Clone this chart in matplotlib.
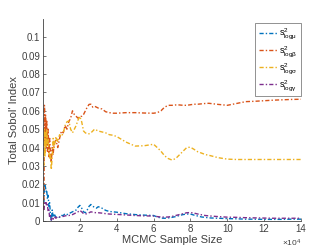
import matplotlib.pyplot as plt
from matplotlib.ticker import FuncFormatter

plt.rcParams['font.family'] = ['Liberation Sans', 'DejaVu Sans']
plt.rcParams['mathtext.fontset'] = 'custom'
plt.rcParams['mathtext.rm'] = 'Liberation Sans'
plt.rcParams['mathtext.it'] = 'Liberation Sans'

# sample sizes
n = [500, 800, 1100, 1400, 1700, 2000, 2400, 2800, 3200, 3600, 4000, 4500, 5000, 5500,
     6000, 7000, 8000, 9000, 10000, 11000, 12000, 13000, 14000, 15000, 16000, 17000,
     18000, 19000, 20000, 21000, 22000, 23000, 24000, 25000, 26000, 27000, 28000, 29000,
     30000, 32000, 34000, 36000, 38000, 40000, 45000, 50000, 55000, 60000, 62000, 64000,
     66000, 68000, 70000, 72000, 74000, 76000, 78000, 80000, 82000, 84000, 86000, 88000,
     90000, 95000, 100000, 105000, 110000, 115000, 120000, 125000, 130000, 135000, 140000]

s_mu = [0.010, 0.019, 0.020, 0.018, 0.016, 0.017, 0.012, 0.014, 0.008, 0.010, 0.004, 0.000,
        0.006, 0.002, 0.004, 0.002, 0.0025, 0.002, 0.003, 0.003, 0.004, 0.0035, 0.004, 0.0045,
        0.005, 0.0055, 0.006, 0.0075, 0.0085, 0.007, 0.005, 0.0045, 0.006, 0.008, 0.009,
        0.008, 0.0075, 0.007, 0.0078, 0.007, 0.0058, 0.0052, 0.005, 0.0048, 0.004, 0.0035,
        0.0032, 0.003, 0.0022, 0.0016, 0.0015, 0.0017, 0.002, 0.0024, 0.003, 0.0035, 0.0038,
        0.0038, 0.0032, 0.0027, 0.0022, 0.002, 0.0017, 0.0015, 0.0013, 0.0012, 0.001, 0.001,
        0.0009, 0.0009, 0.0009, 0.001, 0.001]

s_beta = [0.006, 0.063, 0.045, 0.058, 0.040, 0.055, 0.038, 0.050, 0.035, 0.045, 0.038, 0.032,
          0.040, 0.036, 0.042, 0.044, 0.040, 0.045, 0.049, 0.048, 0.052, 0.050, 0.054, 0.056,
          0.060, 0.058, 0.057, 0.056, 0.057, 0.057, 0.058, 0.060, 0.062, 0.0635, 0.0636, 0.062,
          0.0625, 0.062, 0.0615, 0.061, 0.0595, 0.059, 0.0587, 0.0587, 0.059, 0.059, 0.0588,
          0.0587, 0.059, 0.060, 0.062, 0.063, 0.063, 0.0632, 0.0632, 0.063, 0.063, 0.0633,
          0.0636, 0.0636, 0.0638, 0.064, 0.0641, 0.0635, 0.063, 0.064, 0.065, 0.0652, 0.0655,
          0.0658, 0.066, 0.0662, 0.0663]

s_sigma = [0.030, 0.050, 0.035, 0.048, 0.040, 0.050, 0.042, 0.045, 0.038, 0.034, 0.036, 0.028,
           0.035, 0.045, 0.040, 0.046, 0.043, 0.047, 0.046, 0.048, 0.052, 0.054, 0.0545, 0.050,
           0.048, 0.050, 0.052, 0.055, 0.057, 0.054, 0.049, 0.048, 0.0475, 0.0475, 0.048, 0.049,
           0.050, 0.0495, 0.049, 0.0485, 0.048, 0.047, 0.0467, 0.046, 0.043, 0.0408, 0.041,
           0.0418, 0.040, 0.038, 0.0355, 0.034, 0.0332, 0.034, 0.036, 0.038, 0.040, 0.0402,
           0.039, 0.0377, 0.037, 0.0362, 0.0358, 0.0345, 0.0337, 0.0335, 0.0335, 0.0335, 0.0335,
           0.0335, 0.0335, 0.0335, 0.0335]

s_gamma = [0.006, 0.009, 0.010, 0.009, 0.010, 0.008, 0.009, 0.005, 0.006, 0.002, 0.003, 0.0005,
           0.002, 0.001, 0.0025, 0.0015, 0.0025, 0.0022, 0.0025, 0.0025, 0.0028, 0.003, 0.003,
           0.0032, 0.0035, 0.004, 0.0045, 0.005, 0.0058, 0.005, 0.004, 0.0038, 0.004, 0.0045,
           0.005, 0.0048, 0.0046, 0.0045, 0.0045, 0.0043, 0.004, 0.0038, 0.0037, 0.0036, 0.0033,
           0.003, 0.0028, 0.0027, 0.0024, 0.0022, 0.0021, 0.0022, 0.0025, 0.003, 0.0035, 0.004,
           0.0045, 0.0046, 0.0043, 0.0038, 0.0034, 0.003, 0.0028, 0.0024, 0.0021, 0.002, 0.0018,
           0.0017, 0.0016, 0.0015, 0.0015, 0.0015, 0.0015]

labels = [r'$\mathregular{s^2_{log\mu}}$', r'$\mathregular{s^2_{log\beta}}$',
          r'$\mathregular{s^2_{log\sigma}}$', r'$\mathregular{s^2_{log\gamma}}$']
colors = ['#0072BD', '#D95319', '#EDB120', '#7E2F8E']
grey = '#404040'

fig = plt.figure(figsize=(3.32, 2.49), dpi=100)
ax = fig.add_axes([0.1295, 0.1124, 0.7771, 0.8113])

for ys, lab, c in zip([s_mu, s_beta, s_sigma, s_gamma], labels, colors):
    ax.plot(n, ys, color=c, lw=1.0, dashes=(3, 1.5, 1, 1.5), label=lab)

ax.set_xlim(0, 140000)
ax.set_ylim(0, 0.11)
ax.set_xticks([20000, 40000, 60000, 80000, 100000, 120000, 140000])
ax.xaxis.set_major_formatter(FuncFormatter(lambda v, p: '%g' % (v / 1e4)))
ax.set_yticks([0, 0.01, 0.02, 0.03, 0.04, 0.05, 0.06, 0.07, 0.08, 0.09, 0.1])
ax.set_yticklabels(['0', '0.01', '0.02', '0.03', '0.04', '0.05', '0.06', '0.07', '0.08', '0.09', '0.1'])
ax.text(1.0, -0.085, r'$\times\mathregular{10^4}$', transform=ax.transAxes, ha='right',
        va='top', fontsize=6, color=grey)

for s in ['top', 'right']:
    ax.spines[s].set_visible(False)
for s in ['left', 'bottom']:
    ax.spines[s].set_color(grey)
    ax.spines[s].set_linewidth(0.6)
ax.tick_params(direction='in', length=2.5, width=0.5, colors=grey, labelsize=7, pad=2)

ax.set_xlabel('MCMC Sample Size', fontsize=8, color=grey, labelpad=1)
ax.set_ylabel("Total Sobol' Index", fontsize=8, color=grey, labelpad=2)

leg = ax.legend(loc='upper right', bbox_to_anchor=(1.0, 0.98), fontsize=6.5, frameon=True,
                fancybox=False, edgecolor=grey, handlelength=2.0, handletextpad=0.2,
                labelspacing=0.25, borderpad=0.4, borderaxespad=0)
leg.get_frame().set_linewidth(0.5)

fig.savefig('out.png', dpi=100)
